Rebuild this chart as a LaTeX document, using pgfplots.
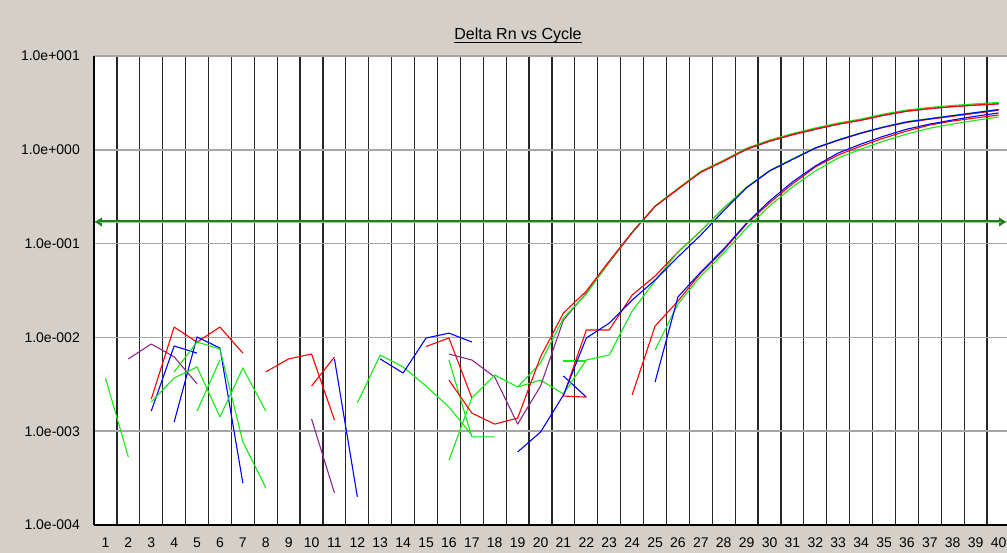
\documentclass[border=0pt]{standalone}
\usepackage{pgfplots}
\pgfplotsset{compat=1.18}
\usepackage{fontspec}
\setmainfont{Liberation Sans}
\usetikzlibrary{arrows.meta}
\definecolor{bgc}{RGB}{212,208,200}
\definecolor{cred}{RGB}{255,0,0}
\definecolor{cgreen}{RGB}{20,235,20}
\definecolor{cblue}{RGB}{0,0,255}
\definecolor{cpurple}{RGB}{140,40,140}
\definecolor{cgrid}{RGB}{165,165,165}
\definecolor{cthr}{RGB}{30,130,30}
\tikzset{
  R/.style={color=cred, line width=1.1pt, line join=round, mark=none},
  G/.style={color=cgreen, line width=1.1pt, line join=round, mark=none},
  B/.style={color=cblue, line width=1.1pt, line join=round, mark=none},
  P/.style={color=cpurple, line width=1.1pt, line join=round, mark=none},
}
\begin{document}
\begin{tikzpicture}[x=1pt,y=1pt]
\fill[bgc] (0,0) rectangle (1007,553);
\begin{axis}[
  at={(94pt,28pt)}, anchor=south west, scale only axis,
  width=913pt, height=469pt,
  xmin=0.5, xmax=40.37, ymode=log, ymin=1e-4, ymax=10,
  axis background/.style={fill=white},
  axis x line*=bottom, axis y line*=left,
  axis line style={-, line width=1.5pt, black},
  xtick={1,...,40}, minor xtick={1.5,2.5,...,39.5},
  xminorgrids, minor x grid style={black!85, line width=1.2pt},
  ytick={1e-4,1e-3,1e-2,1e-1,1,10},
  yticklabels={1.0e-004,1.0e-003,1.0e-002,1.0e-001,1.0e+000,1.0e+001},
  ymajorgrids, major y grid style={cgrid, line width=1.5pt},
  major tick length=0pt, minor tick length=0pt,
  /pgf/number format/assume math mode=true,
  ticklabel style={font=\fontsize{14}{16}\selectfont},
  xticklabel style={anchor=north, inner sep=0pt, yshift=-13pt},
  yticklabel style={anchor=east, inner sep=0pt, xshift=-14pt},
  clip=false,
]
% ---- baseline fragments ----
\addplot[G] coordinates {(1,0.0037)(2,0.00053)};
\addplot[P] coordinates {(2,0.0059)(3,0.0085)(4,0.0062)(5,0.0032)};
\addplot[R] coordinates {(3,0.0022)(4,0.0129)(5,0.0089)(6,0.0129)(7,0.0068)};
\addplot[B] coordinates {(3,0.00164)(4,0.0081)(5,0.0068)};
\addplot[B] coordinates {(4,0.00125)(5,0.0101)(6,0.0077)(7,0.00028)};
\addplot[G] coordinates {(3,0.00205)(4,0.00369)(5,0.00484)(6,0.00142)(7,0.00472)(8,0.00164)};
\addplot[G] coordinates {(4,0.00428)(5,0.00893)(6,0.00752)(7,0.00077)(8,0.00025)};
\addplot[G] coordinates {(5,0.00164)(6,0.00574)};
\addplot[R] coordinates {(8,0.00428)(9,0.0059)(10,0.00665)(11,0.00132)};
\addplot[R] coordinates {(10,0.00303)(11,0.00618)};
\addplot[P] coordinates {(10,0.00135)(11,0.00022)};
\addplot[B] coordinates {(11,0.00589)(12,0.00020)};
\addplot[G] coordinates {(12,0.00200)(13,0.00649)(14,0.00484)(15,0.00303)(16,0.00181)(17,0.00091)};
\addplot[G] coordinates {(16,0.00574)(17,0.00087)(18,0.00087)};
\addplot[B] coordinates {(13,0.00589)(14,0.00417)(15,0.00985)(16,0.0111)(17,0.00893)};
\addplot[R] coordinates {(15,0.0080)(16,0.00985)(17,0.00226)};
\addplot[B] coordinates {(21,0.00388)(22,0.00231)};
\addplot[R] coordinates {(21,0.00237)(22,0.00231)};
\addplot[G] coordinates {(21,0.00560)(22,0.00560)};
% ---- group C (Ct ~ 29) ----
\addplot[G] coordinates {(25,0.00734)(26,0.0227)(27,0.0451)(28,0.0794)(29,0.1466)(30,0.2518)(31,0.4013)(32,0.5943)(33,0.8177)(34,1.02)(35,1.24)(36,1.474)(37,1.70)(38,1.884)(39,2.06)(40,2.237)};
\addplot[R] coordinates {(24,0.00243)(25,0.0132)(26,0.0244)(27,0.0486)(28,0.0855)(29,0.1618)(30,0.2709)(31,0.4318)(32,0.6559)(33,0.8801)(34,1.098)(35,1.336)(36,1.586)(37,1.838)(38,2.028)(39,2.183)(40,2.35)};
\addplot[B] coordinates {(25,0.00334)(26,0.0270)(27,0.0498)(28,0.0876)(29,0.1658)(30,0.2845)(31,0.4535)(32,0.6722)(33,0.9244)(34,1.153)(35,1.40)(36,1.66)(37,1.88)(38,2.08)(39,2.28)(40,2.47)};
% ---- group B (Ct ~ 27) ----
\addplot[R] coordinates {(21,0.00237)(22,0.0120)(23,0.0120)(24,0.0283)(25,0.0451)(26,0.0813)(27,0.1362)(28,0.2396)(29,0.395)(30,0.595)(31,0.79)(32,1.04)(33,1.26)(34,1.50)(35,1.74)(36,1.96)(37,2.12)(38,2.28)(39,2.45)(40,2.64)};
\addplot[G] coordinates {(19,0.00296)(20,0.00351)(21,0.00249)(22,0.00574)(23,0.00649)(24,0.0191)(25,0.040)(26,0.0813)(27,0.1362)(28,0.2396)(29,0.40)(30,0.60)(31,0.80)(32,1.05)(33,1.28)(34,1.52)(35,1.76)(36,2.00)(37,2.16)(38,2.32)(39,2.50)(40,2.70)};
\addplot[B] coordinates {(19,0.00060)(20,0.00098)(21,0.00243)(22,0.00985)(23,0.0142)(24,0.0250)(25,0.0409)(26,0.0720)(27,0.1235)(28,0.225)(29,0.395)(30,0.595)(31,0.79)(32,1.045)(33,1.27)(34,1.51)(35,1.75)(36,1.98)(37,2.14)(38,2.31)(39,2.49)(40,2.68)};
% ---- group A (Ct ~ 24) ----
\addplot[P] coordinates {(16,0.00665)(17,0.00574)(18,0.00378)(19,0.00119)(20,0.00303)(21,0.0153)(22,0.0297)(23,0.063)(24,0.130)(25,0.248)(26,0.38)(27,0.575)(28,0.755)(29,1.01)(30,1.23)(31,1.44)(32,1.65)(33,1.87)(34,2.06)(35,2.33)(36,2.57)(37,2.74)(38,2.88)(39,2.99)(40,3.08)};
\addplot[G] coordinates {(16,0.00049)(17,0.00226)(18,0.00397)(19,0.00296)(20,0.00533)(21,0.0161)(22,0.0290)(23,0.064)(24,0.132)(25,0.252)(26,0.388)(27,0.59)(28,0.775)(29,1.04)(30,1.27)(31,1.49)(32,1.71)(33,1.93)(34,2.13)(35,2.41)(36,2.66)(37,2.83)(38,2.97)(39,3.09)(40,3.20)};
\addplot[R] coordinates {(16,0.00351)(17,0.00156)(18,0.00119)(19,0.00138)(20,0.0062)(21,0.0182)(22,0.0312)(23,0.0652)(24,0.132)(25,0.250)(26,0.3821)(27,0.5799)(28,0.7597)(29,1.020)(30,1.241)(31,1.456)(32,1.666)(33,1.884)(34,2.078)(35,2.350)(36,2.592)(37,2.756)(38,2.895)(39,3.004)(40,3.10)};
% ---- threshold ----
\addplot[color=cthr, line width=3pt, {Latex[length=8pt,width=10pt]}-{Latex[length=8pt,width=10pt]}] coordinates {(0.5,0.17)(40.37,0.17)};
\addplot[color=cthr!45!white, line width=0.8pt, shorten <=6pt, shorten >=6pt] coordinates {(0.5,0.17)(40.37,0.17)};
\end{axis}
\node[inner sep=0pt, anchor=base, font=\fontsize{16}{18}\selectfont] (t) at (518,513) {Delta Rn vs Cycle};
\draw[line width=1.1pt] ([yshift=-2.7pt]t.base west) -- ([yshift=-2.7pt]t.base east);
\pgfresetboundingbox
\useasboundingbox (0,0) rectangle (1007,553);
\end{tikzpicture}
\end{document}
